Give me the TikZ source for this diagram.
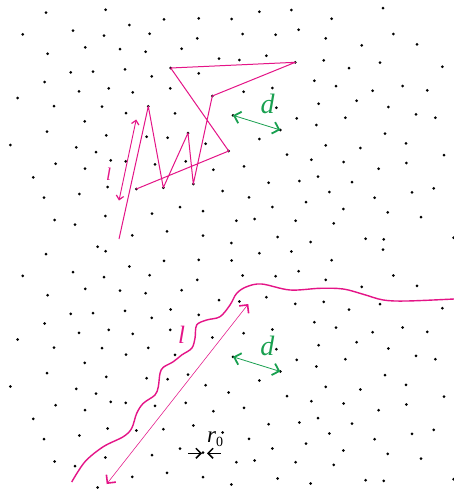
\documentclass[tikz,border=0pt]{standalone}
\usepackage{fontspec}
\setmainfont{Liberation Serif}
\usetikzlibrary{arrows.meta}
\definecolor{mag}{RGB}{228,20,135}
\definecolor{grn}{RGB}{25,160,80}
\tikzset{
  pdot/.style={fill=black},
  walk/.style={draw=mag, line width=1pt, line join=round},
  magarrow/.style={draw=mag, line width=0.9pt, >={Straight Barb[length=4pt,width=7.5pt,line width=1.2pt]}, <->},
  thinarrow/.style={draw=mag, line width=0.55pt, >={Straight Barb[length=6pt,width=12pt,line width=1.6pt]}, <->},
  grnarrow/.style={draw=grn, line width=0.8pt, >={Straight Barb[length=6pt,width=12pt,line width=1.8pt]}, <->},
  wave/.style={draw=mag, line width=1.4pt},
  blkarrow/.style={draw=black, line width=0.9pt, >={Straight Barb[length=5pt,width=10pt,line width=1.5pt]}, ->},
  lbl/.style={inner sep=0pt, font=\fontsize{25}{27}\selectfont\itshape}
}
\def\dotlist{46/12.7, 105.7/9.7, 129.3/25, 164/19.3, 198.7/18.3, 22.7/34.3, 73/30.7, 104/35.7, 149.7/33.7, 197.3/38.3,
47.7/53.7, 85.3/47.3, 120/49, 145.7/51.7, 181.7/48.7, 219/58.7, 170.7/68, 70.7/72.3, 93/71.7, 125/69.3,
151.7/76.3, 198.7/73.3, 44.7/82, 79/91.3, 108.7/88.3, 132.7/92.3, 170.3/88.3, 212.3/96, 17.7/98, 54/106,
102/106.7, 126/113, 148.3/106.3, 175/113.3, 84.7/121.3, 47/131.7, 106.3/135.3, 146.7/136.7, 167.7/137.7, 188/133,
205.7/143.7, 10.3/145, 76.3/147.3, 96/152, 110.7/160.3, 125.7/161.3, 155/164.3, 185.7/161.3, 213.3/169.7, 55.7/163.7,
85/168.7, 33.3/177.3, 107.7/187, 136.3/189, 163.3/187.7, 193.3/184, 222.7/191, 44/197.7, 79.3/194, 152/213.7,
180/207, 203/211, 105.3/216, 54.7/220, 75/224.7, 132.3/235.3, 167/231.3, 203/235.7,
231.7/19, 259.3/11.7, 291.3/10, 331.7/18.7, 383/8, 242.7/34, 275.7/34.7, 298.7/29.7, 325.7/38.3, 393.3/34,
361.7/45.3, 417/44.3, 239.3/60, 266.3/55.7, 295.3/62.3, 323.7/60.3, 349/68, 380/62.7, 442.3/66.7, 314.3/80.7,
336/86, 372.7/90.7, 402.7/86, 427.3/90.3, 243.7/91.7, 272.3/88, 276.3/107.7, 318.7/103.7, 356.7/100.7, 388.3/107,
416/114.3, 435.3/117.7, 233/115.3, 280.3/130, 296.7/118.3, 316.3/125, 345.3/117.7, 259.3/139, 325.7/145.3, 360.3/148,
385/133.7, 406/143.3, 444/155, 228.7/151, 287/154.7, 311.3/159.7, 343.7/162, 378.7/168.7, 406.3/163, 244/166.3,
268.7/182.7, 299.3/181, 318/176.7, 352/182, 329.3/192, 374.7/197.7, 412/192.3, 433.7/188.3, 249/197.3, 272.3/207,
306/202, 343.3/209, 387.7/212.3, 421/217, 236.3/220.7, 254.7/219, 295.7/220.7, 333.7/223.3, 231.3/243, 277.7/237,
310.7/242, 365.7/238.7, 383.7/239.3, 453.7/237.7}
\begin{document}
\begin{tikzpicture}[x=1pt,y=-1pt]
\useasboundingbox[fill=white] (0,0) rectangle (454,491);
% ---------- top panel ----------
\foreach \px/\py in \dotlist { \fill[pdot] (\px,\py) circle (1.5pt); }
\coordinate (w0) at (119,239);
\coordinate (w1) at (148.3,106.3);
\coordinate (w2) at (163.3,187.7);
\coordinate (w3) at (188,133);
\coordinate (w4) at (193.3,184);
\coordinate (w5) at (212.3,96);
\coordinate (w6) at (295.3,62.3);
\coordinate (w7) at (170.7,68);
\coordinate (w8) at (228.7,151);
\coordinate (w9) at (136.3,189);
\draw[walk] (w0) -- (w1) -- (w2) -- (w3) -- (w4) -- (w5) -- (w6) -- (w7) -- (w8) -- (w9);
\coordinate (la) at (119,200.5);
\coordinate (lb) at (136.2,119.5);
\draw[magarrow] (la) -- (lb);
\node[lbl, text=mag, font=\fontsize{18}{20}\selectfont\itshape] (ltop) at (108.5,174) {l};
\coordinate (da) at (233,115.3);
\coordinate (db) at (280.3,130);
\draw[grnarrow] (da) -- (db);
\node[lbl, text=grn, font=\fontsize{28}{30}\selectfont\itshape] (dtop) at (267.5,104) {d};
% ---------- bottom panel ----------
\begin{scope}[yshift=-241.5pt]
\foreach \px/\py in \dotlist { \fill[pdot] (\px,\py) circle (1.5pt); }
\fill[pdot] (97.7,246) circle (1.5pt);
\end{scope}
\fill[pdot] (97.7,246.7) circle (1.5pt);
\draw[wave] plot[smooth, tension=0.55] coordinates {(71.7,482) (85,461.7) (103.3,446.7) (123.3,436.7) (131.7,428.3) (136.7,413.3) (143.3,403.3) (155,395) (158.3,386.7) (160,373.3) (163.3,367.3) (173.3,361.7) (181.7,355) (191.7,348.3) (195,338.3) (196.7,325) (206.7,320) (220,316.7) (230,305) (236.7,293.3) (246.7,286.7) (261.7,284) (290,290) (320,288.3) (343.3,289) (363.3,294.3) (383.3,300) (406.7,301) (454,299)};
\coordinate (ta) at (106.7,484);
\coordinate (tb) at (248.3,304);
\draw[thinarrow] (ta) -- (tb);
\node[lbl, text=mag] (lbot) at (181.7,335) {l};
\coordinate (ea) at (233,356.8);
\coordinate (eb) at (280.3,371.5);
\draw[grnarrow] (ea) -- (eb);
\node[lbl, text=grn, font=\fontsize{28}{30}\selectfont\itshape] (dbot) at (267.3,346) {d};
\coordinate (ra1) at (188,453.3);
\coordinate (ra2) at (202,453.3);
\coordinate (rb1) at (220.5,453.3);
\coordinate (rb2) at (207,453.3);
\draw[blkarrow] (ra1) -- (ra2);
\draw[blkarrow] (rb1) -- (rb2);
\node[inner sep=0pt, anchor=base west, font=\fontsize{23}{25}\selectfont] (r0) at (207,442.5) {\itshape r\fontsize{14}{15}\selectfont\raisebox{-3.5pt}{\upshape 0}};
\end{tikzpicture}
\end{document}
